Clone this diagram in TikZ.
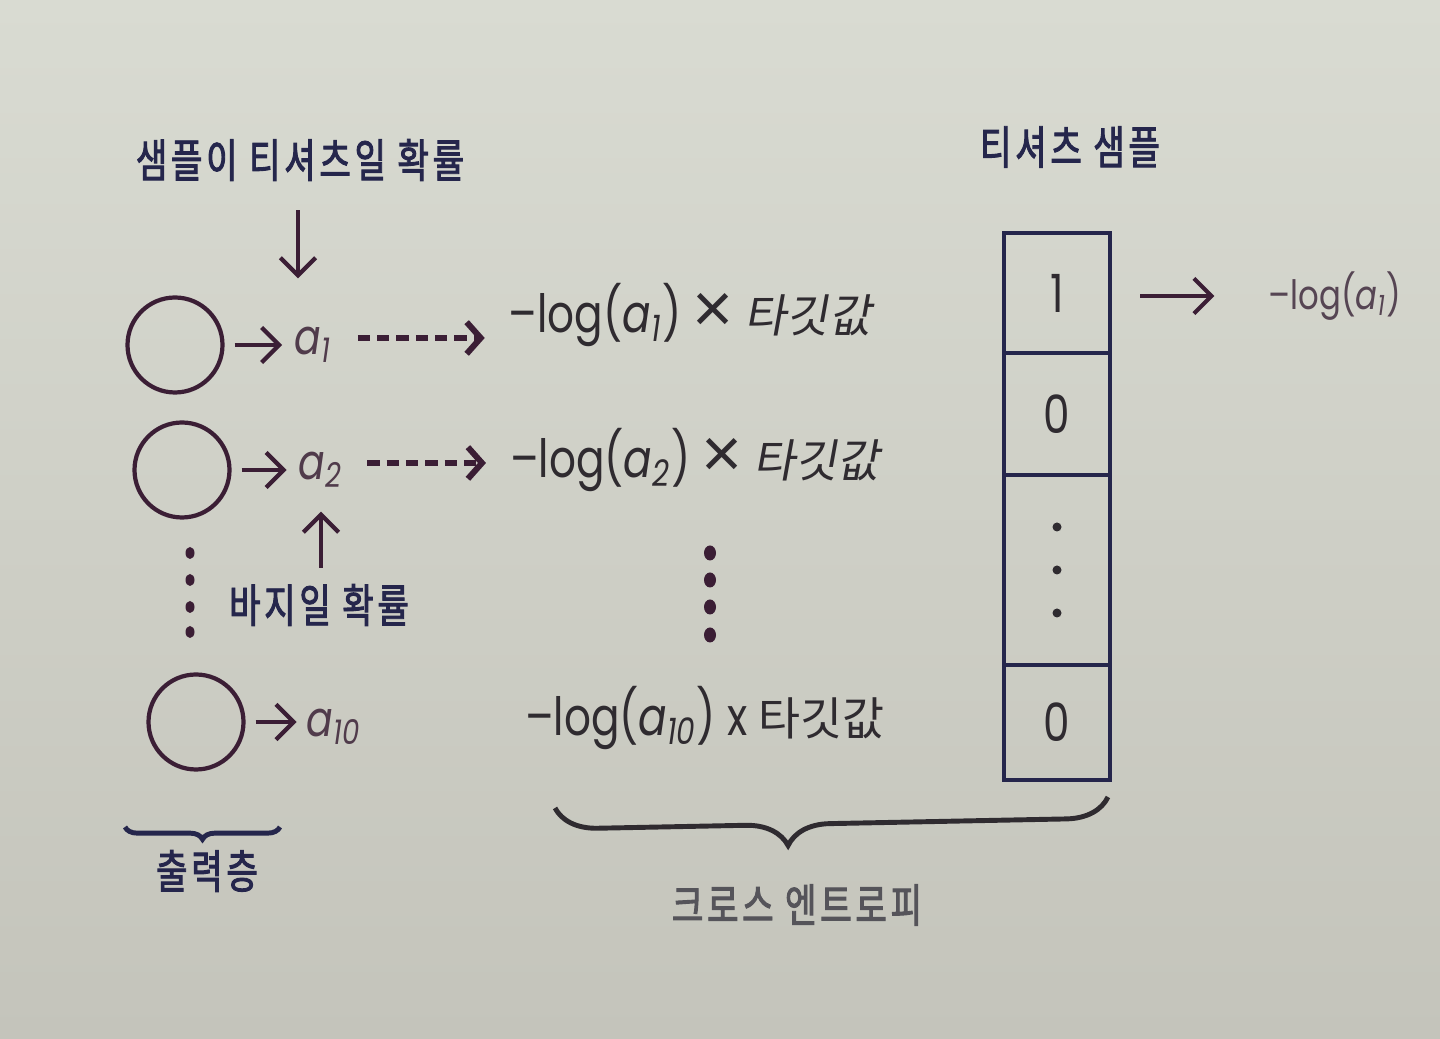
\documentclass[tikz,border=0pt]{standalone}
\usepackage{fontspec}
\usetikzlibrary{positioning,arrows.meta,decorations.pathreplacing}
\newfontfamily\handfont{Noto Sans CJK KR}[FakeStretch=0.75, LetterSpace=8, FakeBold=2]
\newfontfamily\exprfont{Poppins}[FakeStretch=0.8]
\newfontfamily\timesfont{Liberation Sans}
\newfontfamily\kosans{Noto Sans CJK KR}
\newfontfamily\koslant{Noto Sans CJK KR}[FakeSlant=0.18]
\definecolor{papertop}{HTML}{D9DBD2}
\definecolor{paperbot}{HTML}{C4C4BB}
\definecolor{inknavy}{HTML}{25264C}
\definecolor{inkplum}{HTML}{3B1E35}
\definecolor{inkgray}{HTML}{2F2B30}
\definecolor{fadegray}{HTML}{55545A}
\newcommand{\bigtimes}{{\fontsize{20}{20}\selectfont\timesfont ×}}
\begin{document}
\begin{tikzpicture}[
    every node/.style={inner sep=1pt},
    neuron/.style={circle, draw=inkplum, line width=1.2pt, minimum size=0.95cm, inner sep=0pt},
    hand/.style={text=inknavy, font=\fontsize{13}{15}\selectfont\handfont},
    prob/.style={text=inkplum!70!gray, font=\fontsize{14}{16}\selectfont\exprfont\itshape},
    expr/.style={text=inkgray, font=\fontsize{15}{17}\selectfont\exprfont},
    arr/.style={draw=inkplum, line width=1.2pt, -{Straight Barb[length=5pt,width=10pt]}},
    dotarr/.style={draw=inkplum, line width=1.7pt, dash pattern=on 3.5pt off 2pt, -{Straight Barb[length=4pt,width=9pt]}},
    cell/.style={draw=inknavy, line width=1.4pt, minimum width=1.06cm, outer sep=0pt, text=inkgray, font=\fontsize{15}{17}\selectfont\exprfont},
    brc/.style={decorate, decoration={brace, mirror, amplitude=#1}, line width=1.4pt},
]
    % paper
    \fill[top color=papertop, bottom color=paperbot] (0,0) rectangle (14.4,10.39);

    % output layer
    \node[neuron] (o1) at (1.75, 6.94) {};
    \node[neuron] (o2) at (1.82, 5.69) {};
    \node[neuron] (o10) at (1.96, 3.17) {};
    \node[prob] (a1) at (3.13, 6.94) {a\textsubscript{1}};
    \node[prob] (a2) at (3.21, 5.69) {a\textsubscript{2}};
    \node[prob] (a10) at (3.34, 3.12) {a\textsubscript{10}};
    \draw[arr, shorten <=0.1cm, shorten >=0.08cm] (o1) -- (a1);
    \draw[arr, shorten <=0.1cm, shorten >=0.08cm] (o2) -- (a2);
    \draw[arr, shorten <=0.1cm, shorten >=0.06cm] (o10.east) -- (o10.east -| a10.west);
    \foreach \y in {4.86,4.59,4.32,4.07} {
        \fill[inkplum] (1.90, \y) ellipse (0.045 and 0.06);
    }

    % labels on the probabilities
    \node[hand] (tshirt) at (3.00, 8.79) {샘플이 티셔츠일 확률};
    \node[hand] (pants) at (3.19, 4.34) {바지일 확률};
    \draw[arr, shorten <=0.25cm, shorten >=0.45cm] (tshirt.south -| a1) ++(-0.15,0) coordinate (tdown) -- (tdown |- a1.north);
    \draw[arr, shorten <=0.12cm, shorten >=0.2cm] (pants.north -| a2) -- (a2.south);

    % cross entropy terms
    \node[expr] (e1) at (6.90, 7.24) {–log({\itshape a\textsubscript{1}}) \bigtimes\ {\fontsize{13}{15}\selectfont\koslant 타깃값}};
    \node[expr] (e2) at (6.95, 5.79) {–log({\itshape a\textsubscript{2}}) \bigtimes\ {\fontsize{13}{15}\selectfont\koslant 타깃값}};
    \node[expr] (e10) at (7.05, 3.21) {–log({\itshape a\textsubscript{10}}) x {\fontsize{13}{15}\selectfont\kosans 타깃값}};
    \draw[dotarr, shorten <=0.22cm, shorten >=0.2cm] (a1.east) ++(0,0.07) coordinate (d1) -- (d1 -| e1.west);
    \draw[dotarr, shorten <=0.2cm, shorten >=0.2cm] (a2.east) ++(0,0.07) coordinate (d2) -- (d2 -| e2.west);
    \foreach \y in {4.86,4.59,4.32,4.04} {
        \fill[inkplum] (7.10, \y) ellipse (0.06 and 0.075);
    }

    % t-shirt sample
    \node[hand] (sample) at (10.70, 8.92) {티셔츠 샘플};
    \node[cell, minimum height=1.20cm] (c1) at (10.57, 7.46) {1};
    \node[cell, minimum height=1.22cm, below=0pt of c1] (c2) {0};
    \node[cell, minimum height=1.90cm, below=0pt of c2] (c3) {};
    \node[cell, minimum height=1.15cm, below=0pt of c3] (c4) {0};
    \foreach \d in {-0.43,0,0.43} {
        \fill[inkgray] ([yshift=\d cm]c3.center) circle (0.045);
    }
    \node[expr, font=\fontsize{11.5}{14}\selectfont\exprfont, text=inkplum!60!gray] (r1) at (13.35, 7.43) {–log({\itshape a\textsubscript{1}})};
    \draw[arr, shorten <=0.3cm, shorten >=0.5cm] (c1.east |- r1) -- (r1.west);

    % braces
    \coordinate (ol) at (1.25, 2.12);
    \coordinate (or) at (2.80, 2.12);
    \draw[brc=3.5pt, draw=inknavy] (ol) -- (or);
    \node[hand] (outlayer) at (2.07, 1.68) {출력층};
    \coordinate (cl) at (5.55, 2.31);
    \coordinate (cr) at (11.08, 2.42);
    \draw[brc=12pt, draw=inkgray, decoration={aspect=0.42}] (cl) -- (cr);
    \node[hand, text=fadegray] (ce) at (7.97, 1.34) {크로스 엔트로피};
\end{tikzpicture}
\end{document}
